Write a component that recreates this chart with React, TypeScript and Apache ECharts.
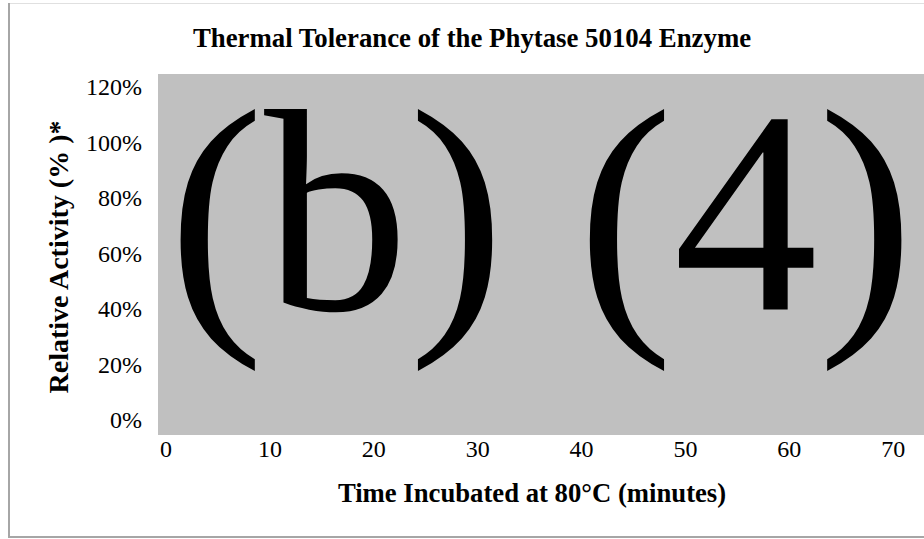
import React, { useEffect, useRef } from "react";
import * as echarts from "echarts";

const chartTitle = "Thermal Tolerance of the Phytase 50104 Enzyme";
const xAxisTitle = "Time Incubated at 80°C (minutes)";
const yAxisTitle = "Relative Activity (% )*";
const redactionMark = "(b) (4)";
const xTicks = [0, 10, 20, 30, 40, 50, 60, 70, 80];
const yTicks = [0, 20, 40, 60, 80, 100, 120];

const FONT = "'Liberation Serif', 'Times New Roman', serif";

export default function App() {
  const ref = useRef<HTMLDivElement>(null);
  useEffect(() => {
    if (!ref.current) return;
    const chart = echarts.init(ref.current, null, { renderer: "svg" });
    chart.setOption({
      animation: false,
      backgroundColor: "#ffffff",
      grid: { left: 166, top: 87, width: 831, height: 333, containLabel: false, outerBoundsMode: "none" },
      xAxis: {
        type: "value",
        min: xTicks[0],
        max: xTicks[xTicks.length - 1],
        interval: 10,
        axisLine: { show: false },
        axisTick: { show: false },
        splitLine: { show: false },
        axisLabel: { fontFamily: FONT, fontSize: 24, color: "#000", margin: 17, showMaxLabel: false },
      },
      yAxis: {
        type: "value",
        min: yTicks[0],
        max: yTicks[yTicks.length - 1],
        interval: 20,
        axisLine: { show: false },
        axisTick: { show: false },
        splitLine: { show: false },
        axisLabel: {
          fontFamily: FONT,
          fontSize: 24,
          color: "#000",
          margin: 24,
          formatter: (v: number) => v + "%",
        },
      },
      graphic: [
        { type: "rect", z: -10, shape: { x: 158, y: 74, width: 800, height: 361 }, style: { fill: "#c0c0c0" } },
        { type: "line", shape: { x1: 9, y1: 3, x2: 9, y2: 537 }, style: { stroke: "#a6a6a6", lineWidth: 2 } },
        { type: "line", shape: { x1: 10, y1: 3.5, x2: 924, y2: 3.5 }, style: { stroke: "#e0e0e0", lineWidth: 1 } },
        { type: "line", shape: { x1: 8, y1: 537, x2: 924, y2: 537 }, style: { stroke: "#a6a6a6", lineWidth: 2 } },
        {
          type: "text",
          x: 472,
          y: 38,
          style: { text: chartTitle, fontFamily: FONT, fontWeight: "bold", fontSize: 26.8, fill: "#000", align: "center", verticalAlign: "middle" },
        },
        {
          type: "text",
          x: 532,
          y: 493,
          style: { text: xAxisTitle, fontFamily: FONT, fontWeight: "bold", fontSize: 26.7, fill: "#000", align: "center", verticalAlign: "middle" },
        },
        {
          type: "text",
          x: 58,
          y: 257,
          rotation: Math.PI / 2,
          style: { text: yAxisTitle, fontFamily: FONT, fontWeight: "bold", fontSize: 28, fill: "#000", align: "center", verticalAlign: "middle" },
        },
        {
          type: "text",
          x: 541,
          y: 212,
          z: 10,
          style: { text: redactionMark, fontFamily: FONT, fontSize: 289, fill: "#000", align: "center", verticalAlign: "middle" },
        },
      ],
      series: [],
    });
    return () => chart.dispose();
  }, []);
  return <div ref={ref} style={{ position: "fixed", left: 0, top: 0, width: 924, height: 539 }} />;
}
